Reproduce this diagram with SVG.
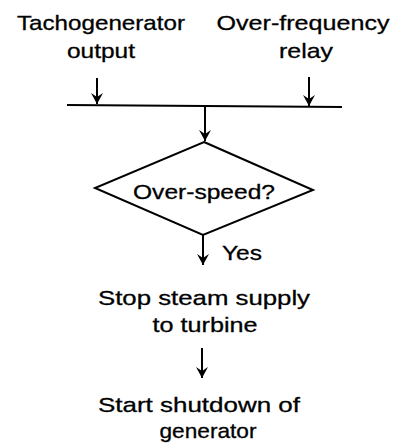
<svg xmlns="http://www.w3.org/2000/svg" width="396" height="444" viewBox="0 0 396 444">
<defs>
<style>
.t{font-family:"Liberation Sans",Arial,sans-serif;font-size:21px;fill:#000;stroke:#000;stroke-width:0.3;text-anchor:middle}
.c{stroke:#000;stroke-width:2;fill:none}
</style>
<marker id="ah" viewBox="0 0 14 12" refX="14" refY="6" markerWidth="14" markerHeight="12" markerUnits="userSpaceOnUse" orient="auto">
<path d="M3,0 L14,6 L3,12 L7,6 Z" fill="#000"/>
</marker>
</defs>
<rect width="396" height="444" fill="#fff"/>
<g id="tacho">
<text class="t" x="101" y="30" textLength="168" lengthAdjust="spacingAndGlyphs">Tachogenerator</text>
<text class="t" x="101" y="58" textLength="68" lengthAdjust="spacingAndGlyphs">output</text>
</g>
<g id="relay">
<text class="t" x="303" y="30" textLength="173" lengthAdjust="spacingAndGlyphs">Over-frequency</text>
<text class="t" x="306" y="58" textLength="54" lengthAdjust="spacingAndGlyphs">relay</text>
</g>
<g id="decision">
<polygon points="204,142 313,190 203,235 95,188" fill="#fff" stroke="#000" stroke-width="2"/>
<text class="t" x="204" y="199" textLength="142" lengthAdjust="spacingAndGlyphs">Over-speed?</text>
</g>
<g id="stop">
<text class="t" x="204" y="305" textLength="212" lengthAdjust="spacingAndGlyphs">Stop steam supply</text>
<text class="t" x="205" y="332" textLength="105" lengthAdjust="spacingAndGlyphs">to turbine</text>
</g>
<g id="shutdown">
<text class="t" x="199" y="412" textLength="202" lengthAdjust="spacingAndGlyphs">Start shutdown of</text>
<text class="t" x="208" y="438" textLength="97" lengthAdjust="spacingAndGlyphs">generator</text>
</g>
<g id="connectors">
<line class="c" x1="67" y1="105" x2="342" y2="107"/>
<line class="c" x1="97" y1="78" x2="97" y2="104" marker-end="url(#ah)"/>
<line class="c" x1="309" y1="77" x2="309" y2="106" marker-end="url(#ah)"/>
<line class="c" x1="205" y1="106" x2="205" y2="141" marker-end="url(#ah)"/>
<line class="c" x1="203" y1="235" x2="203" y2="265" marker-end="url(#ah)"/>
<text class="t" x="242" y="260" textLength="40" lengthAdjust="spacingAndGlyphs">Yes</text>
<line class="c" x1="202" y1="348" x2="202" y2="378" marker-end="url(#ah)"/>
</g>
</svg>
